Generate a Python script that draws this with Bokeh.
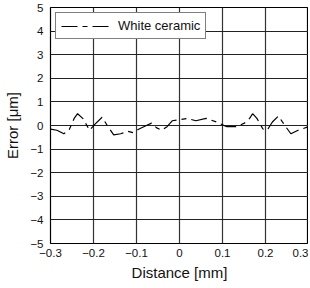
from bokeh.plotting import figure
from bokeh.models import FixedTicker, ColumnDataSource, Legend, LegendItem
from bokeh.embed import file_html
from bokeh.resources import INLINE

distance = [-0.300, -0.285, -0.269, -0.257, -0.245, -0.237, -0.225, -0.209, -0.197, -0.180,
            -0.168, -0.153, -0.137, -0.120, -0.108, -0.094, -0.077, -0.065, -0.053, -0.041,
            -0.029, -0.017, 0.000, 0.019, 0.038, 0.062, 0.086, 0.110, 0.132, 0.151,
            0.163, 0.170, 0.180, 0.194, 0.204, 0.216, 0.230, 0.247, 0.259, 0.276, 0.300]
error = [-0.15, -0.2, -0.35, -0.2, 0.3, 0.5, 0.3, -0.2, 0.05, 0.35,
         0.0, -0.4, -0.35, -0.25, -0.3, -0.15, 0.0, 0.1, -0.1, -0.2,
         -0.05, 0.2, 0.25, 0.3, 0.2, 0.3, 0.15, -0.05, -0.05, 0.1,
         0.3, 0.5, 0.3, -0.15, -0.2, 0.15, 0.4, -0.05, -0.35, -0.2, -0.05]

x_ticks = [-0.3, -0.2, -0.1, 0.0, 0.1, 0.2, 0.3]
x_tick_labels = ["\u22120.3", "\u22120.2", "\u22120.1", "0", "0.1", "0.2", "0.3"]
y_ticks = [-5, -4, -3, -2, -1, 0, 1, 2, 3, 4, 5]
y_tick_labels = ["\u22125", "\u22124", "\u22123", "\u22122", "\u22121", "0", "1", "2", "3", "4", "5"]
series_name = "White ceramic"

FONT = "Liberation Sans"

p = figure(width=308, height=283, x_range=(-0.3, 0.3), y_range=(-5, 5),
           output_backend="svg", toolbar_location=None,
           min_border_left=50, min_border_right=0, min_border_top=7, min_border_bottom=0)

p.background_fill_color = "white"
p.border_fill_color = "white"
p.outline_line_color = "black"
p.outline_line_width = 1.2

for ax in (p.xaxis[0], p.yaxis[0]):
    ax.major_tick_line_color = None
    ax.minor_tick_line_color = None
    ax.major_tick_out = 0
    ax.major_tick_in = 0
    ax.minor_tick_out = 0
    ax.axis_line_color = None
    ax.major_label_text_font = FONT
    ax.major_label_text_font_size = "11.5px"
    ax.major_label_text_color = "#111111"
    ax.axis_label_text_font = FONT
    ax.axis_label_text_font_size = "15px"
    ax.axis_label_text_font_style = "normal"
    ax.axis_label_text_color = "#111111"

p.xaxis.ticker = FixedTicker(ticks=x_ticks)
p.yaxis.ticker = FixedTicker(ticks=y_ticks)
p.xaxis.major_label_overrides = {t: l for t, l in zip(x_ticks, x_tick_labels)}
p.yaxis.major_label_overrides = {t: l for t, l in zip(y_ticks, y_tick_labels)}
p.xaxis.major_label_standoff = 5
p.yaxis.major_label_standoff = 7
p.xaxis.axis_label = "Distance [mm]"
p.yaxis.axis_label = "Error [\u03bcm]"
p.xaxis.axis_label_standoff = 4
p.yaxis.axis_label_standoff = 6

p.xgrid.grid_line_color = "#333333"
p.ygrid.grid_line_color = "#222222"
p.xgrid.grid_line_width = 1.2
p.ygrid.grid_line_width = 1.2

src = ColumnDataSource(dict(x=distance, y=error))
r = p.line("x", "y", source=src, line_color="black", line_width=1.2, line_dash="16 5 5 5")

legend = Legend(items=[LegendItem(label=series_name, renderers=[r])])
legend.label_text_font = FONT
legend.label_text_font_size = "13px"
legend.label_text_color = "#111111"
legend.glyph_width = 51
legend.glyph_height = 14
legend.padding = 5
legend.spacing = 0
legend.label_standoff = 6
legend.label_height = 14
legend.border_line_color = "black"
legend.border_line_width = 1
legend.background_fill_alpha = 1
legend.location = "top_left"
legend.margin = 5
p.add_layout(legend, "center")

open("out.html", "w").write(file_html(p, INLINE))
